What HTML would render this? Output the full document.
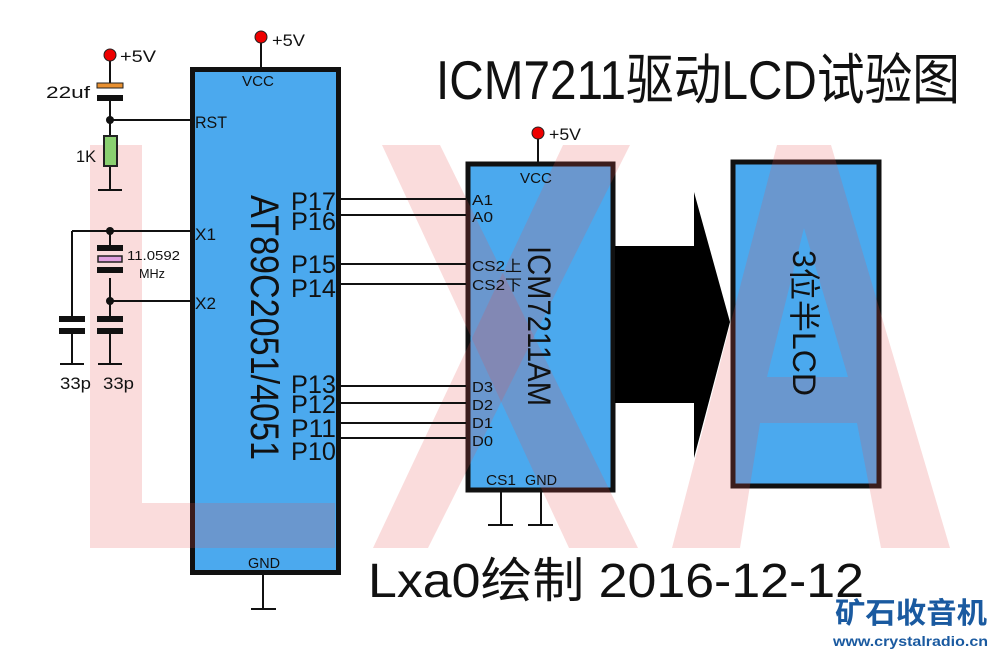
<!DOCTYPE html>
<html><head><meta charset="utf-8"><style>
html,body{margin:0;padding:0;background:#fff;}
svg{display:block;}
text{font-family:"Liberation Sans","Noto Sans CJK SC",sans-serif;}
</style></head><body>
<svg width="999" height="653" viewBox="0 0 999 653" xmlns="http://www.w3.org/2000/svg">
<rect x="192.5" y="69.5" width="146" height="503" fill="#4ba9ee" stroke="#111" stroke-width="5"/>
<rect x="468" y="164" width="145" height="326" fill="#4ba9ee" stroke="#111" stroke-width="5"/>
<rect x="733" y="162" width="146" height="324" fill="#4ba9ee" stroke="#111" stroke-width="5"/>
<rect x="615" y="246" width="82" height="157" fill="#000"/>
<polygon points="694,192 730,322 694,458" fill="#000"/>
<g fill="rgba(230,80,80,0.2)">
<polygon points="90,145 142,145 142,503 335,503 335,548 90,548"/>
<polygon points="382,145 440,145 638,548 569,548"/>
<polygon points="563,145 630,145 428,548 373,548"/>
<path fill-rule="evenodd" d="M777,145 L831,145 L950,548 L881,548 L857,423 L760,423 L740,548 L672,548 Z M804,228 L848,377 L767,377 Z"/>
</g>
<g stroke="#111" stroke-width="2" fill="none">
<line x1="341" y1="199" x2="466" y2="199"/>
<line x1="341" y1="215" x2="466" y2="215"/>
<line x1="341" y1="264" x2="466" y2="264"/>
<line x1="341" y1="284" x2="466" y2="284"/>
<line x1="341" y1="386" x2="466" y2="386"/>
<line x1="341" y1="403" x2="466" y2="403"/>
<line x1="341" y1="423" x2="466" y2="423"/>
<line x1="341" y1="438" x2="466" y2="438"/>
<line x1="261" y1="40" x2="261" y2="67"/>
<line x1="538" y1="133" x2="538" y2="162"/>
<line x1="263" y1="575" x2="263" y2="609"/><line x1="251" y1="609" x2="276" y2="609"/>
<line x1="501" y1="492" x2="501" y2="525"/><line x1="488" y1="525" x2="513" y2="525"/>
<line x1="541" y1="492" x2="541" y2="525"/><line x1="528" y1="525" x2="553" y2="525"/>
<line x1="110" y1="56" x2="110" y2="83"/>
<line x1="110" y1="99" x2="110" y2="136"/>
<line x1="110" y1="120" x2="192" y2="120"/>
<line x1="110" y1="165" x2="110" y2="190"/>
<line x1="98" y1="190" x2="122" y2="190"/>
<line x1="72" y1="231" x2="192" y2="231"/>
<line x1="72" y1="231" x2="72" y2="318"/>
<line x1="110" y1="231" x2="110" y2="245"/>
<line x1="110" y1="278" x2="110" y2="318"/>
<line x1="110" y1="301" x2="192" y2="301"/>
<line x1="72" y1="334" x2="72" y2="364"/>
<line x1="110" y1="334" x2="110" y2="364"/>
<line x1="60" y1="364" x2="84" y2="364"/>
<line x1="98" y1="364" x2="122" y2="364"/>
</g>
<rect x="97" y="83" width="26" height="5" fill="#e89030" stroke="#222" stroke-width="1"/>
<rect x="97" y="95" width="26" height="6" fill="#111"/>
<rect x="104" y="136" width="13" height="30" fill="#8ad070" stroke="#222" stroke-width="2"/>
<rect x="97" y="245" width="26" height="6" fill="#111"/>
<rect x="98" y="256" width="24" height="6" fill="#e0a0e0" stroke="#222" stroke-width="1.5"/>
<rect x="97" y="267" width="26" height="6" fill="#111"/>
<rect x="59" y="316" width="26" height="6" fill="#111"/>
<rect x="59" y="328" width="26" height="6" fill="#111"/>
<rect x="97" y="316" width="26" height="6" fill="#111"/>
<rect x="97" y="328" width="26" height="6" fill="#111"/>
<g fill="#111"><circle cx="110" cy="120" r="4"/><circle cx="110" cy="231" r="4"/><circle cx="110" cy="301" r="4"/></g>
<g fill="#e00" stroke="#222" stroke-width="1"><circle cx="110" cy="55" r="6"/><circle cx="261" cy="37" r="6"/><circle cx="538" cy="133" r="6"/></g>
<g fill="#111" font-size="17">
<text x="120" y="62" textLength="36" lengthAdjust="spacingAndGlyphs">+5V</text>
<text x="272" y="46" textLength="33" lengthAdjust="spacingAndGlyphs">+5V</text>
<text x="549" y="140" textLength="32" lengthAdjust="spacingAndGlyphs">+5V</text>
<text x="46" y="98" textLength="44" lengthAdjust="spacingAndGlyphs">22uf</text>
<text x="76" y="162" textLength="20" lengthAdjust="spacingAndGlyphs">1K</text>
<text x="127" y="260" font-size="13" textLength="53" lengthAdjust="spacingAndGlyphs">11.0592</text>
<text x="139" y="278" font-size="13" textLength="26" lengthAdjust="spacingAndGlyphs">MHz</text>
<text x="60" y="389" textLength="31" lengthAdjust="spacingAndGlyphs">33p</text>
<text x="103" y="389" textLength="31" lengthAdjust="spacingAndGlyphs">33p</text>
<text x="242" y="86" font-size="15" textLength="32" lengthAdjust="spacingAndGlyphs">VCC</text>
<text x="195" y="128" textLength="32" lengthAdjust="spacingAndGlyphs">RST</text>
<text x="195" y="240" textLength="21" lengthAdjust="spacingAndGlyphs">X1</text>
<text x="195" y="309" textLength="21" lengthAdjust="spacingAndGlyphs">X2</text>
<text x="248" y="568" font-size="15" textLength="32" lengthAdjust="spacingAndGlyphs">GND</text>
<text x="520" y="183" font-size="15" textLength="32" lengthAdjust="spacingAndGlyphs">VCC</text>
<text x="472" y="205" font-size="15" textLength="21" lengthAdjust="spacingAndGlyphs">A1</text>
<text x="472" y="222" font-size="15" textLength="21" lengthAdjust="spacingAndGlyphs">A0</text>
<text x="472" y="271" font-size="15" textLength="50" lengthAdjust="spacingAndGlyphs">CS2上</text>
<text x="472" y="290" font-size="15" textLength="50" lengthAdjust="spacingAndGlyphs">CS2下</text>
<text x="472" y="392" font-size="15" textLength="21" lengthAdjust="spacingAndGlyphs">D3</text>
<text x="472" y="410" font-size="15" textLength="21" lengthAdjust="spacingAndGlyphs">D2</text>
<text x="472" y="428" font-size="15" textLength="21" lengthAdjust="spacingAndGlyphs">D1</text>
<text x="472" y="446" font-size="15" textLength="21" lengthAdjust="spacingAndGlyphs">D0</text>
<text x="486" y="485" font-size="15" textLength="30" lengthAdjust="spacingAndGlyphs">CS1</text>
<text x="525" y="485" font-size="15" textLength="32" lengthAdjust="spacingAndGlyphs">GND</text>
</g>
<g fill="#111" font-size="25">
<text x="291" y="210" textLength="45" lengthAdjust="spacingAndGlyphs">P17</text>
<text x="291" y="230" textLength="45" lengthAdjust="spacingAndGlyphs">P16</text>
<text x="291" y="273" textLength="45" lengthAdjust="spacingAndGlyphs">P15</text>
<text x="291" y="297" textLength="45" lengthAdjust="spacingAndGlyphs">P14</text>
<text x="291" y="393" textLength="45" lengthAdjust="spacingAndGlyphs">P13</text>
<text x="291" y="413" textLength="45" lengthAdjust="spacingAndGlyphs">P12</text>
<text x="291" y="437" textLength="45" lengthAdjust="spacingAndGlyphs">P11</text>
<text x="291" y="460" textLength="45" lengthAdjust="spacingAndGlyphs">P10</text>
</g>
<text transform="translate(251,195) rotate(90)" font-size="40" fill="#111" textLength="265" lengthAdjust="spacingAndGlyphs">AT89C2051/4051</text>
<text transform="translate(528,246) rotate(90)" font-size="32" fill="#111" textLength="160" lengthAdjust="spacingAndGlyphs">ICM7211AM</text>
<text transform="translate(793,250) rotate(90)" font-size="32" fill="#111" textLength="146" lengthAdjust="spacingAndGlyphs">3位半LCD</text>
<text x="436" y="99" font-size="55" fill="#111" textLength="524" lengthAdjust="spacingAndGlyphs">ICM7211驱动LCD试验图</text>
<text x="368" y="597" font-size="48" fill="#111" textLength="496" lengthAdjust="spacingAndGlyphs">Lxa0绘制 2016-12-12</text>
<text x="835" y="623" font-size="29" font-weight="bold" fill="#1a5aa0" textLength="152" lengthAdjust="spacingAndGlyphs">矿石收音机</text>
<text x="833" y="646" font-size="14" font-weight="bold" fill="#1a5aa0" textLength="155" lengthAdjust="spacingAndGlyphs">www.crystalradio.cn</text>
</svg>
</body></html>
